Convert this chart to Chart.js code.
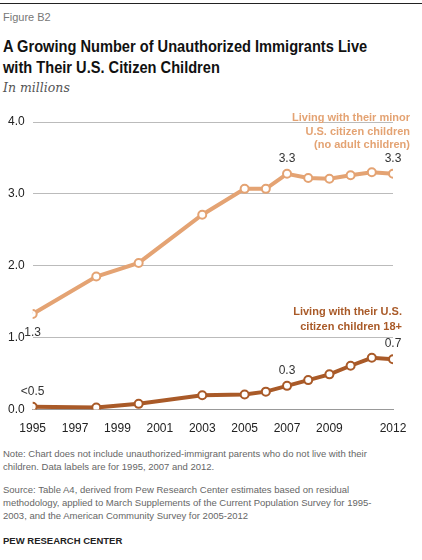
<!DOCTYPE html>
<html><head><meta charset="utf-8">
<script src="https://cdn.jsdelivr.net/npm/chart.js@4"></script>
<style>
body{margin:0;width:422px;height:560px;background:#fff;font-family:"Liberation Sans",Arial,sans-serif;position:relative;overflow:hidden}
.t{position:absolute;left:3px}
</style></head><body>
<div style="position:absolute;left:0;top:3px;width:422px;height:1px;background:#222"></div>
<div class="t" style="top:11px;font-size:11px;color:#777">Figure B2</div>
<div class="t" style="top:36px;font-size:17px;font-weight:bold;color:#111;line-height:21px;white-space:nowrap;transform:scaleX(0.86);transform-origin:0 0">A Growing Number of Unauthorized Immigrants Live<br>with Their U.S. Citizen Children</div>
<div class="t" style="top:80px;font-size:12.5px;font-style:italic;color:#555;font-family:'DejaVu Serif',serif">In millions</div>
<div style="position:absolute;left:0;top:100px;width:422px;height:340px"><canvas id="c"></canvas></div>
<div class="t" style="top:447px;font-size:9.5px;color:#666;line-height:13px;width:395px">Note: Chart does not include unauthorized-immigrant parents who do not live with their children. Data labels are for 1995, 2007 and 2012.</div>
<div class="t" style="top:483px;font-size:9.5px;color:#666;line-height:13px;width:390px">Source: Table A4, derived from Pew Research Center estimates based on residual methodology, applied to March Supplements of the Current Population Survey for 1995-2003, and the American Community Survey for 2005-2012</div>
<div class="t" style="top:535px;font-size:9.5px;font-weight:bold;color:#222">PEW RESEARCH CENTER</div>
<script>
const years=[1995,1998,2000,2003,2005,2006,2007,2008,2009,2010,2011,2012];
const minorKids=[1.33,1.85,2.04,2.71,3.07,3.07,3.28,3.22,3.21,3.26,3.30,3.28];
const adultKids=[0.04,0.03,0.08,0.2,0.21,0.25,0.33,0.41,0.49,0.61,0.72,0.70];
const xTicks=[1995,1997,1999,2001,2003,2005,2007,2009,2012];
const yTicks=[0,1,2,3,4];
const minorLabels={0:"1.3",6:"3.3",11:"3.3"};
const adultLabels={0:"<0.5",6:"0.3",11:"0.7"};
const cMinor="#E4A373",cAdult="#A95A28";
const labelPlugin={id:"lab",afterDatasetsDraw(ch){
 const ctx=ch.ctx;ctx.save();ctx.font="12px 'Liberation Sans',Arial";ctx.fillStyle="#333";ctx.textAlign="center";
 [[0,minorLabels,{0:18}],[1,adultLabels,{}]].forEach(([di,labs,below])=>{
  const m=ch.getDatasetMeta(di);
  for(const k in labs){const p=m.data[k];const dy=below[k]?below[k]:-12;ctx.fillText(labs[k],p.x,p.y+dy+(dy>0?4:0));}
 });
 ctx.font="bold 11px 'Liberation Sans',Arial";ctx.textAlign="right";
 ctx.fillStyle=cMinor;
 ["Living with their minor","U.S. citizen children","(no adult children)"].forEach((s,i)=>ctx.fillText(s,410,21+i*13.5));
 ctx.fillStyle=cAdult;
 ["Living with their U.S.","citizen children 18+"].forEach((s,i)=>ctx.fillText(s,402,215+i*15));
 ctx.restore();}};
new Chart(document.getElementById("c"),{type:"line",
data:{datasets:[
 {data:years.map((y,i)=>({x:y,y:minorKids[i]})),borderColor:cMinor,backgroundColor:"#fff",borderWidth:4,pointRadius:4,pointBorderWidth:2,pointBackgroundColor:"#fff",pointBorderColor:cMinor},
 {data:years.map((y,i)=>({x:y,y:adultKids[i]})),borderColor:cAdult,backgroundColor:"#fff",borderWidth:4,pointRadius:4,pointBorderWidth:2,pointBackgroundColor:"#fff",pointBorderColor:cAdult}]},
options:{responsive:true,maintainAspectRatio:false,animation:false,layout:{padding:{left:0,right:29,top:22,bottom:0}},
 plugins:{legend:{display:false},tooltip:{enabled:false}},
 scales:{
  x:{type:"linear",min:1995,max:2012,afterBuildTicks:a=>{a.ticks=xTicks.map(v=>({value:v}))},
   grid:{display:false},border:{color:"#999"},ticks:{color:"#222",font:{size:12,family:"'Liberation Sans',Arial"},maxRotation:0,autoSkip:false,padding:4,callback:v=>String(v)}},
  y:{min:0,max:4,afterBuildTicks:a=>{a.ticks=yTicks.map(v=>({value:v}))},
   grid:{color:"#bbb",borderDash:[1,2],drawTicks:false},border:{display:false},
   ticks:{color:"#222",font:{size:12,family:"'Liberation Sans',Arial"},padding:8,callback:v=>v.toFixed(1)}}}},
plugins:[labelPlugin]});
</script></body></html>
